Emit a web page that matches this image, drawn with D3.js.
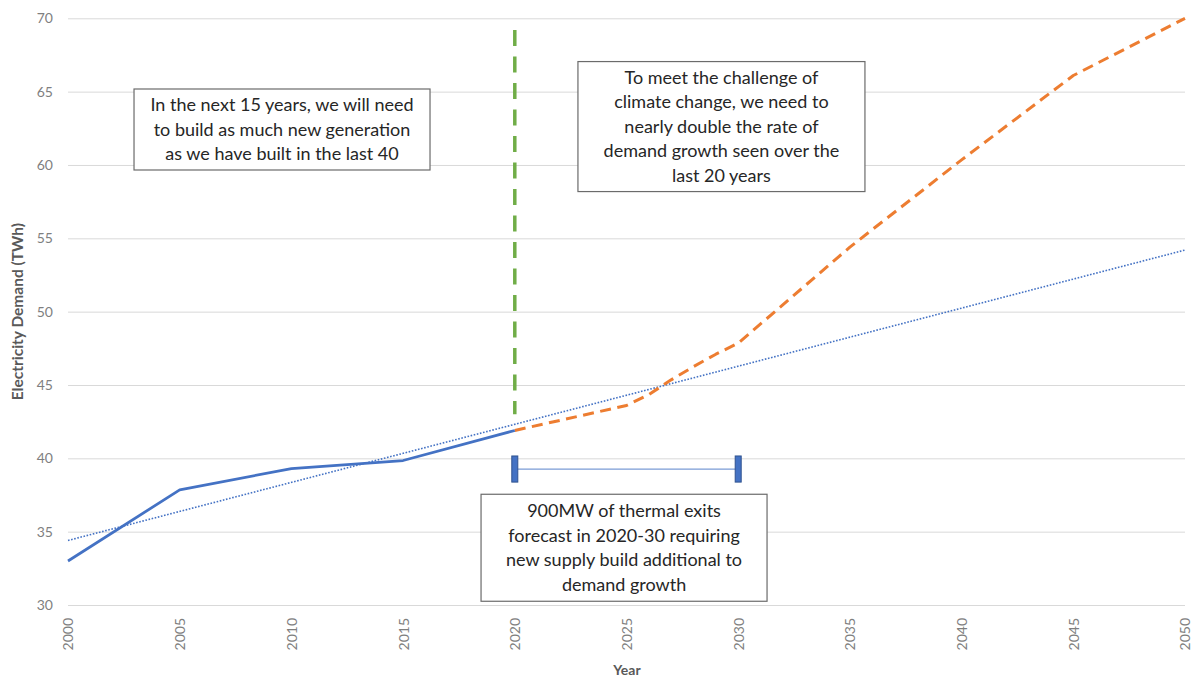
<!DOCTYPE html>
<html>
<head>
<meta charset="utf-8">
<script src="https://cdn.jsdelivr.net/npm/d3@7/dist/d3.min.js"></script>
<style>
  html, body { margin: 0; padding: 0; background: #ffffff; }
  svg { display: block; font-family: Lato, "Open Sans", sans-serif; }
</style>
</head>
<body>
<svg id="chart" width="1195" height="677"></svg>
<script>
// ---- data ----
const yearTicks = [2000, 2005, 2010, 2015, 2020, 2025, 2030, 2035, 2040, 2045, 2050];
const demandTicks = [30, 35, 40, 45, 50, 55, 60, 65, 70];

const historyYears = [2000, 2005, 2010, 2015, 2020];
const historyDemand = [33.0, 37.85, 39.3, 39.85, 41.9];

const forecastYears = [2020, 2025, 2026, 2027, 2028, 2029, 2030, 2035, 2040, 2045, 2050];
const forecastDemand = [41.9, 43.6, 44.35, 45.35, 46.25, 47.1, 47.85, 54.4, 60.35, 66.1, 70.0];

const trendYears = [2000, 2050];
const trendDemand = [34.4, 54.2];

const dividerYears = [2020, 2020];
const dividerDemand = [43.0, 69.2];

const exitsRange = [2020, 2030];
const exitsLevel = 39.27;
const exitsCapHalf = 0.89;

const notes = [
  { lines: ["In the next 15 years, we will need", "to build as much new generation", "as we have built in the last 40"] },
  { lines: ["To meet the challenge of", "climate change, we need to", "nearly double the rate of", "demand growth seen over the", "last 20 years"] },
  { lines: ["900MW of thermal exits", "forecast in 2020-30 requiring", "new supply build additional to", "demand growth"] }
];

// ---- layout ----
const svg = d3.select("#chart");
const x = d3.scaleLinear().domain([2000, 2050]).range([68, 1185]);
const y = d3.scaleLinear().domain([30, 70]).range([605, 18.3]);

// gridlines + y labels
const yAxis = d3.axisLeft(y).tickValues(demandTicks).tickSize(-(x.range()[1] - x.range()[0])).tickPadding(15);
const gy = svg.append("g").attr("transform", `translate(${x.range()[0]},0)`).call(yAxis);
gy.select(".domain").remove();
gy.selectAll(".tick line").attr("stroke", "#d9d9d9").attr("stroke-width", 1);
gy.selectAll(".tick text").attr("fill", "#7f7f7f").style("font-size", "14px").style("font-family", "Lato, sans-serif");

// x labels
const xAxis = d3.axisBottom(x).tickValues(yearTicks).tickFormat(d3.format("d")).tickSize(0);
const gx = svg.append("g").attr("transform", `translate(0,${y(30)})`).call(xAxis);
gx.select(".domain").remove();
gx.selectAll(".tick text")
  .attr("transform", "rotate(-90)")
  .attr("x", -13).attr("y", 0).attr("dy", "0.35em")
  .attr("text-anchor", "end")
  .attr("fill", "#7f7f7f").style("font-size", "14px").style("font-family", "Lato, sans-serif");

// axis titles
svg.append("text")
  .attr("transform", `translate(23,${(y(30) + y(70)) / 2}) rotate(-90)`)
  .attr("text-anchor", "middle")
  .attr("fill", "#595959").style("font-size", "15.5px").style("font-weight", "bold")
  .text("Electricity Demand (TWh)");
svg.append("text")
  .attr("x", (x(2000) + x(2050)) / 2 + 0.5).attr("y", 675)
  .attr("text-anchor", "middle")
  .attr("fill", "#595959").style("font-size", "14px").style("font-weight", "bold")
  .text("Year");

const line = d3.line().x(d => x(d[0])).y(d => y(d[1]));

// trend (dotted)
svg.append("path")
  .datum(d3.zip(trendYears, trendDemand))
  .attr("d", line).attr("fill", "none")
  .attr("stroke", "#4472C4").attr("stroke-width", 1.6).attr("stroke-dasharray", "1.6,1.6");

// divider (green dashed)
svg.append("path")
  .datum(d3.zip(dividerYears, dividerDemand).reverse())
  .attr("d", line).attr("fill", "none")
  .attr("stroke", "#70AD47").attr("stroke-width", 3.5).attr("stroke-dasharray", "16,10.5");

// forecast (orange dashed)
svg.append("path")
  .datum(d3.zip(forecastYears, forecastDemand))
  .attr("d", line).attr("fill", "none")
  .attr("stroke", "#ED7D31").attr("stroke-width", 3).attr("stroke-dasharray", "11,6.5")
  .attr("stroke-linejoin", "round");

// history (solid blue)
svg.append("path")
  .datum(d3.zip(historyYears, historyDemand))
  .attr("d", line).attr("fill", "none")
  .attr("stroke", "#4472C4").attr("stroke-width", 2.75).attr("stroke-linejoin", "round");

// thermal exits range bar
svg.append("line")
  .attr("x1", x(exitsRange[0])).attr("x2", x(exitsRange[1]))
  .attr("y1", y(exitsLevel)).attr("y2", y(exitsLevel))
  .attr("stroke", "#7a9bd6").attr("stroke-width", 1.3);
svg.selectAll("rect.cap").data(exitsRange).join("rect")
  .attr("class", "cap")
  .attr("x", d => x(d) - 3).attr("width", 6)
  .attr("y", y(exitsLevel + exitsCapHalf)).attr("height", y(exitsLevel - exitsCapHalf) - y(exitsLevel + exitsCapHalf))
  .attr("fill", "#4472C4").attr("stroke", "#2F528F").attr("stroke-width", 1);

// annotation boxes (anchored in data space)
const boxes = [
  { cx: x(2009.58), top: y(65.18), w: 296, h: 81, note: notes[0] },
  { cx: x(2029.25), top: y(67.05), w: 287, h: 130, note: notes[1] },
  { cx: x(2024.89), top: y(37.55), w: 286, h: 107, note: notes[2] }
];
const lineGap = 24.5;
boxes.forEach(b => {
  const g = svg.append("g");
  g.append("rect")
    .attr("x", b.cx - b.w / 2).attr("y", b.top).attr("width", b.w).attr("height", b.h)
    .attr("fill", "#ffffff").attr("stroke", "#6b6b6b").attr("stroke-width", 1.2);
  const n = b.note.lines.length;
  const firstCenter = b.top + b.h / 2 - (n - 1) * lineGap / 2;
  g.selectAll("text").data(b.note.lines).join("text")
    .attr("x", b.cx).attr("y", (d, i) => firstCenter + i * lineGap)
    .attr("dy", "0.35em").attr("text-anchor", "middle")
    .attr("fill", "#262626").style("font-size", "18px")
    .text(d => d);
});
</script>
</body>
</html>
